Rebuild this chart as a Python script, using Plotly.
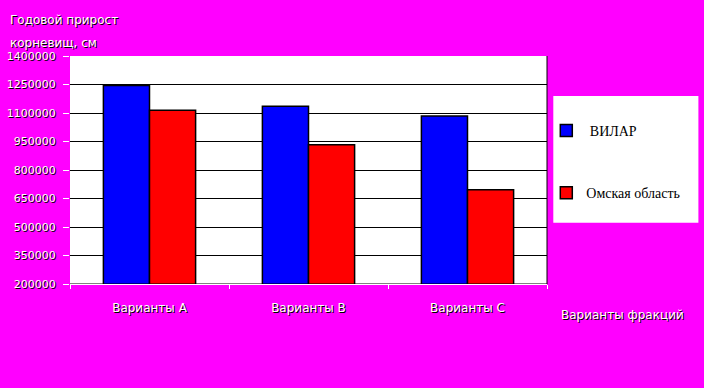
import plotly.graph_objects as go

categories = ["Варианты А", "Варианты В", "Варианты С"]
vilar = [1245000, 1136000, 1084000]
omsk = [1115000, 933000, 696000]
series_names = ["ВИЛАР", "Омская область"]
y_ticks = [200000, 350000, 500000, 650000, 800000, 950000, 1100000, 1250000, 1400000]

W, H = 704, 388
L, R, T, B = 70, 157.3, 56, 103.7
pw, ph = W - L - R, H - T - B

def px(x):
    return (x - L) / pw

def py(y):
    return (H - B - y) / ph

tick_font = dict(family="DejaVu Sans", size=11, color="white", shadow="1px 1px 0px black")
text_font = dict(family="DejaVu Sans", size=12, color="white", shadow="1px 1px 0px black")

fig = go.Figure()
fig.add_trace(go.Bar(x=categories, y=vilar, name=" " + series_names[0],
                     marker=dict(color="#0000FF", line=dict(color="black", width=1.5)),
                     legendgroup="a"))
fig.add_trace(go.Bar(x=categories, y=omsk, name=series_names[1],
                     marker=dict(color="#FF0000", line=dict(color="black", width=1.5)),
                     legendgroup="b"))

fig.update_layout(
    width=W, height=H,
    margin=dict(l=L, r=R, t=T, b=B, pad=0, autoexpand=False),
    paper_bgcolor="#FF00FF",
    plot_bgcolor="white",
    barmode="group",
    bargap=0.42,
    bargroupgap=0,
    showlegend=True,
    legend=dict(x=px(546), y=py(115), xanchor="left", yanchor="top",
                bgcolor="rgba(0,0,0,0)", tracegroupgap=41,
                font=dict(family="Liberation Serif", size=14, color="black"),
                itemwidth=30),
    xaxis=dict(type="category", tickson="boundaries", ticks="outside", ticklen=4,
               tickcolor="white", showline=True, linecolor="white", linewidth=1,
               showgrid=False, tickfont=text_font, ticklabelstandoff=13, automargin=False),
    yaxis=dict(range=[200000, 1400000], tickvals=y_ticks, ticktext=[str(v) for v in y_ticks],
               ticks="outside", ticklen=6, tickcolor="white",
               showgrid=True, gridcolor="black", gridwidth=1, zeroline=False,
               showline=False, tickfont=tick_font, ticklabelstandoff=5, automargin=False),
    shapes=[
        dict(type="rect", xref="paper", yref="paper", x0=px(553), x1=px(698),
             y0=py(223), y1=py(96), fillcolor="white", line=dict(width=0), layer="below"),
        dict(type="line", xref="paper", yref="y", x0=0, x1=1, y0=1400000, y1=1400000,
             line=dict(color="white", width=2), layer="above"),
        dict(type="line", xref="paper", yref="paper", x0=1, x1=1, y0=0, y1=1,
             line=dict(color="black", width=1)),
        dict(type="line", xref="paper", yref="y", x0=0, x1=1, y0=200000, y1=200000,
             line=dict(color="black", width=1)),
    ],
    annotations=[
        dict(text="Годовой прирост", xref="paper", yref="paper", x=px(8), y=py(20),
             xanchor="left", yanchor="middle", showarrow=False, font=text_font),
        dict(text="корневищ, см", xref="paper", yref="paper", x=px(8), y=py(43),
             xanchor="left", yanchor="middle", showarrow=False, font=text_font),
        dict(text="Варианты фракций", xref="paper", yref="paper", x=px(559), y=py(315),
             xanchor="left", yanchor="middle", showarrow=False, font=text_font),
    ],
)

fig.write_html("out.html", config={"displayModeBar": False},
               post_script="document.body.style.margin='0';document.body.style.background='#FF00FF';")
